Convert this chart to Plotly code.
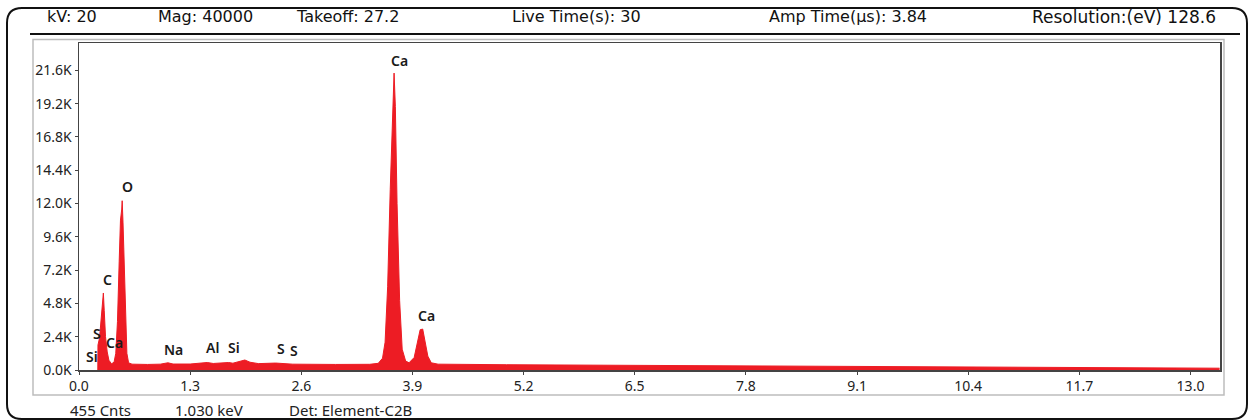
import plotly.graph_objects as go

# ---------------- data ----------------
energy_kev = [0.22, 0.222, 0.24, 0.26, 0.275, 0.285, 0.295, 0.31, 0.33, 0.35, 0.38, 0.41, 0.43,
              0.45, 0.47, 0.485, 0.50, 0.505, 0.515, 0.53, 0.545, 0.56, 0.58, 0.62, 0.8, 0.95,
              1.04, 1.1, 1.3, 1.45, 1.5, 1.57, 1.7, 1.75, 1.8, 1.88, 1.94, 2.0, 2.1, 2.3, 2.36,
              2.5, 3.0, 3.4, 3.5, 3.55, 3.58, 3.61, 3.64, 3.665, 3.685, 3.70, 3.72, 3.75, 3.78,
              3.82, 3.86, 3.92, 3.96, 3.99, 4.02, 4.05, 4.08, 4.12, 4.2, 5.0, 6.0, 7.0, 8.0,
              9.0, 10.0, 11.0, 12.0, 13.0, 13.34]
counts = [0, 1800, 2300, 3900, 5300, 5550, 4300, 2400, 1300, 700, 450, 560, 1200,
          3500, 7800, 10800, 11600, 12200, 10600, 7200, 3200, 1200, 520, 420, 400, 420,
          520, 430, 430, 510, 540, 470, 490, 540, 490, 600, 720, 560, 460, 500, 490,
          420, 400, 410, 480, 850, 2000, 6000, 13000, 18500, 21400, 19000, 12000, 5000, 1500,
          650, 520, 900, 2000, 2900, 2950, 2000, 1000, 520, 420, 380, 350, 310, 270,
          240, 210, 180, 160, 140, 130]

peak_labels = ["Ca", "Ca", "O", "C", "S", "Ca", "Si", "Na", "Al", "Si", "S", "S"]
peak_label_e = [3.75, 4.07, 0.57, 0.33, 0.21, 0.41, 0.15, 1.10, 1.56, 1.81, 2.36, 2.52]
peak_label_c = [22300, 3900, 13200, 6500, 2600, 2000, 1000, 1450, 1600, 1600, 1550, 1420]

x_ticks = [0.0, 1.3, 2.6, 3.9, 5.2, 6.5, 7.8, 9.1, 10.4, 11.7, 13.0]
y_ticks = [0, 2400, 4800, 7200, 9600, 12000, 14400, 16800, 19200, 21600]
y_tick_text = ["0.0K", "2.4K", "4.8K", "7.2K", "9.6K", "12.0K", "14.4K", "16.8K", "19.2K", "21.6K"]

header_items = ["kV: 20", "Mag: 40000", "Takeoff: 27.2", "Live Time(s): 30",
                "Amp Time(\u00b5s): 3.84", "Resolution:(eV) 128.6"]
footer_items = ["455 Cnts", "1.030 keV", "Det: Element-C2B"]

# ---------------- layout helpers ----------------
W, H = 1249, 420
L, R, T, B = 79, 1220, 43, 370


def px(x):
    return (x - L) / (R - L)


def py(y):
    return (B - y) / (B - T)


fig = go.Figure()
fig.add_trace(go.Scatter(
    x=energy_kev, y=counts, mode="lines", fill="tozeroy",
    line=dict(color="#ED1C24", width=1), fillcolor="#ED1C24",
    hoverinfo="skip", showlegend=False))

annotations = []
for t, e, c in zip(peak_labels, peak_label_e, peak_label_c):
    annotations.append(dict(x=e, y=c, xref="x", yref="y", text=t, showarrow=False,
                            font=dict(family="Noto Sans", size=14, weight=600, color="#1a1a1a")))

header_x = [72, 205, 347, 576, 848, 1124]
header_sizes = [16, 16, 16, 16, 16, 17]
for t, hx, hs in zip(header_items, header_x, header_sizes):
    annotations.append(dict(x=px(hx), y=py(17), xref="paper", yref="paper", text=t,
                            showarrow=False, xanchor="center", yanchor="middle",
                            font=dict(family="DejaVu Sans", size=hs, color="#111")))

footer_x = [100, 209, 350]
for t, fx in zip(footer_items, footer_x):
    annotations.append(dict(x=px(fx), y=py(410), xref="paper", yref="paper", text=t,
                            showarrow=False, xanchor="center", yanchor="middle",
                            font=dict(family="Noto Sans", size=15, color="#222")))


def rounded_rect(x0, y0, x1, y1, r):
    pts = [
        ("M", x0 + r, y0), ("L", x1 - r, y0), ("Q", x1, y0, x1, y0 + r),
        ("L", x1, y1 - r), ("Q", x1, y1, x1 - r, y1), ("L", x0 + r, y1),
        ("Q", x0, y1, x0, y1 - r), ("L", x0, y0 + r), ("Q", x0, y0, x0 + r, y0),
    ]
    s = ""
    for p in pts:
        cmd = p[0]
        coords = p[1:]
        parts = []
        for i in range(0, len(coords), 2):
            parts.append(f"{px(coords[i]):.5f},{py(coords[i + 1]):.5f}")
        s += cmd + " " + " ".join(parts) + " "
    return s + "Z"


shapes = [
    dict(type="path", xref="paper", yref="paper", path=rounded_rect(7, 8, 1247, 419, 15),
         line=dict(color="#111", width=2), layer="below"),
    dict(type="line", xref="paper", yref="paper", x0=px(30), x1=px(1240), y0=py(34), y1=py(34),
         line=dict(color="#111", width=2)),
    dict(type="rect", xref="paper", yref="paper", x0=px(33), x1=px(1224), y0=py(39.5), y1=py(395),
         line=dict(color="#BDBDBD", width=1.5), layer="below"),
]

fig.update_layout(
    template="none",
    width=W, height=H,
    margin=dict(l=L, r=W - R, t=T, b=H - B, pad=0),
    paper_bgcolor="white", plot_bgcolor="white",
    showlegend=False,
    annotations=annotations,
    shapes=shapes,
    xaxis=dict(range=[0, (R - L) / 85.5], tickmode="array", tickvals=x_ticks,
               ticktext=[f"{v:.1f}" for v in x_ticks], automargin=False,
               showgrid=False, zeroline=False, showline=True, mirror=True,
               linecolor="#444", linewidth=1.5, ticks="outside", ticklen=3, tickcolor="#444",
               tickfont=dict(family="Noto Sans", size=14, color="#222")),
    yaxis=dict(range=[0, (B - T) / 13.875 * 1000], tickmode="array", tickvals=y_ticks,
               ticktext=y_tick_text, automargin=False,
               showgrid=False, zeroline=False, showline=True, mirror=True,
               linecolor="#444", linewidth=1.5, ticks="outside", ticklen=3, tickcolor="#444",
               tickfont=dict(family="Noto Sans", size=14, color="#222")),
)

fig.write_html("out.html",
               config={"displayModeBar": False, "staticPlot": True},
               post_script="document.body.style.margin='0px';document.body.style.padding='0px';"
                           "document.body.style.overflow='hidden';")
